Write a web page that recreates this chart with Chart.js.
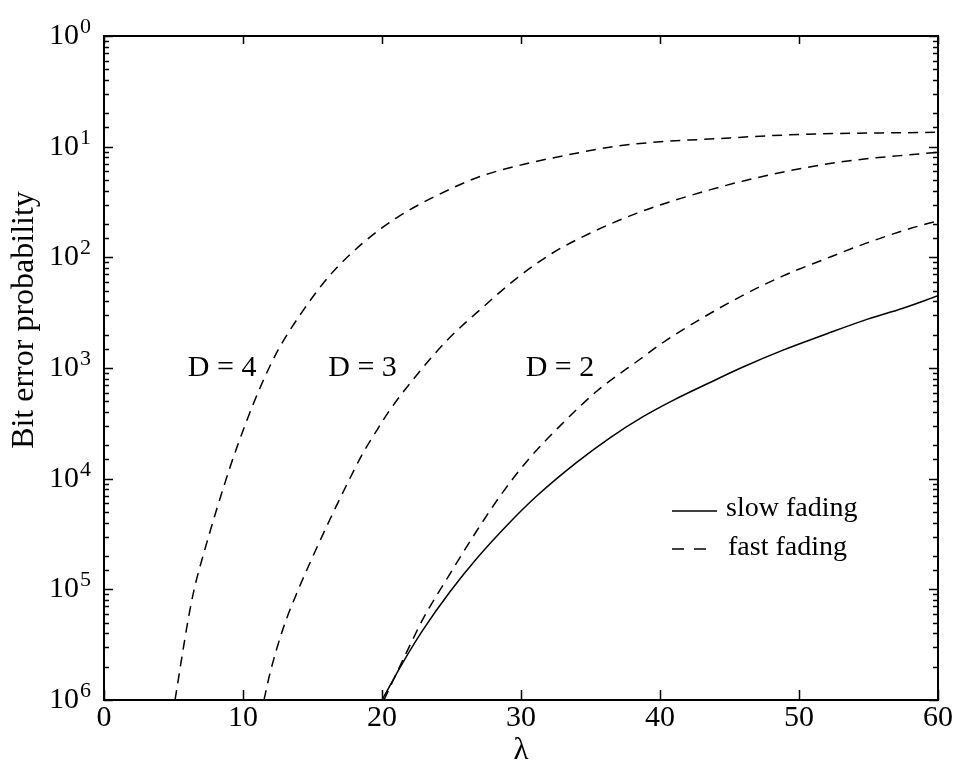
<!DOCTYPE html>
<html>
<head>
<meta charset="utf-8">
<script src="https://cdn.jsdelivr.net/npm/chart.js@4/dist/chart.umd.min.js"></script>
<style>
  html, body { margin: 0; padding: 0; background: #fff; }
  #wrap { width: 956px; height: 770px; position: relative; }
</style>
</head>
<body>
<div id="wrap"><canvas id="ber"></canvas></div>
<script>
// values (lambda, bit error probability)
const lambdaD4 = [5.11, 6.04, 6.47, 7.05, 9.06, 10.29, 11.22, 12.52, 14.32, 16.26, 18.63, 21.08, 23.96, 27.05, 30.14, 33.31, 36.62, 40.5, 42.88, 50.07, 60];
const fastD4 = [1.0e-6, 5.2e-6, 9.8e-6, 1.86e-5, 1.26e-4, 3.39e-4, 6.6e-4, 1.45e-3, 3.3e-3, 6.9e-3, 1.35e-2, 2.29e-2, 3.63e-2, 5.37e-2, 6.9e-2, 8.4e-2, 0.100, 0.112, 0.116, 0.129, 0.135];

const lambdaD3 = [11.51, 11.94, 12.88, 13.88, 15.04, 16.26, 17.48, 18.63, 19.64, 20.58, 22.52, 24.68, 27.27, 29.71, 32.3, 35.18, 38.35, 41.44, 46.0, 50.58, 54.17, 57.27, 60];
const fastD3 = [1.0e-6, 1.74e-6, 4.4e-6, 9.3e-6, 2.0e-5, 4.3e-5, 8.9e-5, 1.7e-4, 2.75e-4, 4.2e-4, 8.7e-4, 1.78e-3, 3.55e-3, 6.5e-3, 1.1e-2, 1.7e-2, 2.51e-2, 3.39e-2, 4.9e-2, 6.5e-2, 7.6e-2, 8.3e-2, 8.9e-2];

const lambdaD2 = [20.14, 21.8, 22.95, 24.89, 26.83, 28.71, 30.65, 32.81, 35.47, 38.56, 40.22, 42.88, 45.76, 48.85, 51.73, 54.89, 57.99, 60];
const fastD2 = [1.0e-6, 2.75e-6, 5.4e-6, 1.38e-5, 3.4e-5, 7.6e-5, 1.55e-4, 3.0e-4, 6.2e-4, 1.2e-3, 1.7e-3, 2.75e-3, 4.4e-3, 6.8e-3, 9.5e-3, 1.35e-2, 1.82e-2, 2.14e-2];

const lambdaSlow = [20.0, 21.51, 22.95, 24.89, 26.83, 29.0, 31.15, 34.03, 36.4, 38.78, 40.94, 43.6, 45.97, 48.85, 52.01, 54.89, 57.48, 60];
const slowD2 = [1.0e-6, 2.19e-6, 4.3e-6, 9.5e-6, 1.91e-5, 3.8e-5, 7.0e-5, 1.41e-4, 2.34e-4, 3.63e-4, 5.1e-4, 7.4e-4, 1.02e-3, 1.45e-3, 2.04e-3, 2.75e-3, 3.47e-3, 4.5e-3];

// y tick labels as printed in the figure: "10" + exponent
const yTickValues = [1, 1e-1, 1e-2, 1e-3, 1e-4, 1e-5, 1e-6];
const yTickExps = ['0', '1', '2', '3', '4', '5', '6'];

// curve annotations (placed at lambda, probability)
const curveLabels = ['D = 4', 'D = 3', 'D = 2'];
const curveLabelX = [8.5, 18.6, 32.8];
const curveLabelY = [1.0e-3, 1.0e-3, 1.0e-3];

const SERIF = '"Liberation Serif", "DejaVu Serif", serif';
const DASH = [10, 7];

function pts(xs, ys) {
    return xs.map((x, i) => ({ x: x, y: ys[i] }));
}

function lineSet(label, data, dashed) {
    return {
        label: label,
        data: data,
        borderColor: '#000',
        borderWidth: 1.5,
        borderDash: dashed ? DASH : [],
        pointRadius: 0,
        fill: false,
        cubicInterpolationMode: 'monotone'
    };
}

// frame, inward ticks, tick labels, titles, annotations, legend
const decorPlugin = {
    id: 'decor',
    afterDraw(chart) {
        const ctx = chart.ctx;
        const xs = chart.scales.x;
        const ys = chart.scales.y;
        const a = chart.chartArea;
        ctx.save();
        ctx.strokeStyle = '#000';
        ctx.fillStyle = '#000';

        // frame
        ctx.lineWidth = 2;
        ctx.strokeRect(a.left, a.top, a.right - a.left, a.bottom - a.top);

        // y ticks (major + minor), both sides
        ctx.lineWidth = 1.5;
        ys.ticks.forEach(t => {
            const py = Math.round(ys.getPixelForValue(t.value)) + 0.5;
            const e = Math.log10(t.value);
            const len = Math.abs(e - Math.round(e)) < 1e-6 ? 9 : 5;
            ctx.beginPath();
            ctx.moveTo(a.left, py); ctx.lineTo(a.left + len, py);
            ctx.moveTo(a.right, py); ctx.lineTo(a.right - len, py);
            ctx.stroke();
        });
        // x ticks, bottom and top
        xs.ticks.forEach(t => {
            const px = Math.round(xs.getPixelForValue(t.value)) + 0.5;
            ctx.beginPath();
            ctx.moveTo(px, a.bottom); ctx.lineTo(px, a.bottom - 10);
            ctx.moveTo(px, a.top); ctx.lineTo(px, a.top + 8);
            ctx.stroke();
        });

        // y tick labels: 10 with raised exponent
        ctx.textBaseline = 'alphabetic';
        ctx.textAlign = 'left';
        yTickValues.forEach((v, i) => {
            const py = ys.getPixelForValue(v);
            ctx.font = '30px ' + SERIF;
            const w = ctx.measureText('10').width;
            const x0 = 49;
            ctx.fillText('10', x0, py + 8);
            ctx.font = '22px ' + SERIF;
            ctx.fillText(yTickExps[i], x0 + w + 1, py - 3);
        });

        // axis titles
        ctx.font = '31px ' + SERIF;
        ctx.textAlign = 'center';
        ctx.textBaseline = 'middle';
        ctx.fillText('\u03bb', (a.left + a.right) / 2, 751);
        ctx.save();
        ctx.translate(25, 320);
        ctx.rotate(-Math.PI / 2);
        ctx.font = '32px ' + SERIF;
        ctx.fillText('Bit error probability', 0, 0);
        ctx.restore();

        // curve annotations
        ctx.font = '30px ' + SERIF;
        curveLabels.forEach((s, i) => {
            ctx.fillText(s, xs.getPixelForValue(curveLabelX[i]), ys.getPixelForValue(curveLabelY[i]));
        });

        // legend
        ctx.textAlign = 'left';
        ctx.textBaseline = 'alphabetic';
        ctx.font = '28px ' + SERIF;
        ctx.lineWidth = 1.5;
        ctx.beginPath();
        ctx.moveTo(672, 511); ctx.lineTo(717, 511);
        ctx.stroke();
        ctx.fillText('slow fading', 726, 516);
        ctx.setLineDash([12, 10]);
        ctx.beginPath();
        ctx.moveTo(672, 549); ctx.lineTo(706, 549);
        ctx.stroke();
        ctx.setLineDash([]);
        ctx.fillText('fast fading', 728, 555);

        ctx.restore();
    }
};

const chart = new Chart(document.getElementById('ber'), {
    type: 'line',
    data: {
        datasets: [
            lineSet('slow fading', pts(lambdaSlow, slowD2), false),
            lineSet('fast fading D=2', pts(lambdaD2, fastD2), true),
            lineSet('fast fading D=3', pts(lambdaD3, fastD3), true),
            lineSet('fast fading D=4', pts(lambdaD4, fastD4), true)
        ]
    },
    options: {
        responsive: true,
        maintainAspectRatio: false,
        animation: false,
        layout: { padding: { left: 0, right: 18, top: 36, bottom: 0 } },
        plugins: {
            legend: { display: false },
            tooltip: { enabled: false }
        },
        scales: {
            x: {
                type: 'linear',
                min: 0,
                max: 60,
                grid: { display: false, drawTicks: false },
                border: { display: false },
                ticks: {
                    stepSize: 10,
                    color: '#000',
                    padding: 0,
                    font: { family: SERIF, size: 30 }
                },
                afterFit: s => { s.height = 70; }
            },
            y: {
                type: 'logarithmic',
                min: 1e-6,
                max: 1,
                grid: { display: false },
                border: { display: false },
                ticks: { display: false, autoSkip: false },
                afterFit: s => { s.width = 104; }
            }
        }
    },
    plugins: [decorPlugin]
});
</script>
</body>
</html>
